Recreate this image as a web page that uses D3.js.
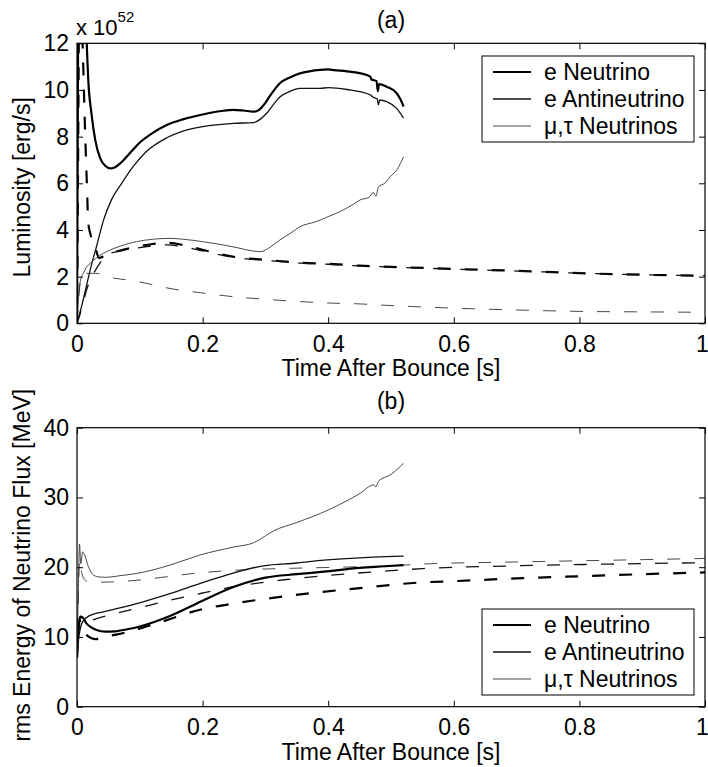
<!DOCTYPE html>
<html>
<head>
<meta charset="utf-8">
<script src="https://cdn.jsdelivr.net/npm/d3@7"></script>
<style>
  body { margin: 0; background: #fff; }
  text { font-family: "Liberation Sans", Arial, Helvetica, sans-serif; }
</style>
</head>
<body>
<div id="chart"></div>
<script>
// Time axis ticks, shared by both panels
const timeTicks = [0, 0.2, 0.4, 0.6, 0.8, 1];
const lumTicks = [0, 2, 4, 6, 8, 10, 12];
const energyTicks = [0, 10, 20, 30, 40];
const seriesNames = ["e Neutrino", "e Antineutrino", "\u03bc,\u03c4 Neutrinos"];

// (a) luminosity in units of 1e52 erg/s, [time s, value]
// solid: run ending at 0.52 s
const lumENu = [[0,0],[0.002,14],[0.005,22],[0.009,20],[0.0155,12],[0.018,10.4],[0.023,9.0],[0.029,7.86],[0.037,7.07],[0.045,6.75],[0.053,6.64],[0.06,6.68],[0.069,6.86],[0.084,7.29],[0.1,7.75],[0.12,8.15],[0.143,8.5],[0.17,8.75],[0.2,8.95],[0.23,9.1],[0.249,9.15],[0.265,9.12],[0.281,9.07],[0.29,9.15],[0.3,9.45],[0.31,9.85],[0.323,10.29],[0.34,10.55],[0.355,10.71],[0.37,10.8],[0.387,10.86],[0.4,10.88],[0.41,10.85],[0.43,10.8],[0.45,10.72],[0.467,10.57],[0.469,10.45],[0.477,10.38],[0.479,9.95],[0.481,10.25],[0.493,10.14],[0.509,9.86],[0.515,9.6],[0.52,9.29]];
const lumEAnu = [[0,0],[0.008,0.8],[0.015,1.6],[0.022,2.4],[0.031,3.28],[0.042,4.4],[0.055,5.3],[0.07,5.95],[0.089,6.7],[0.11,7.35],[0.143,7.95],[0.17,8.25],[0.2,8.43],[0.249,8.57],[0.281,8.6],[0.292,8.75],[0.302,9.0],[0.312,9.35],[0.323,9.7],[0.34,9.95],[0.355,10.07],[0.387,10.07],[0.4,10.1],[0.43,10.02],[0.467,9.79],[0.471,9.7],[0.478,9.62],[0.48,9.36],[0.482,9.57],[0.493,9.5],[0.509,9.21],[0.52,8.79]];
const lumMuTau = [[0,0],[0.003,1.3],[0.006,1.9],[0.01,2.14],[0.015,2.4],[0.021,2.57],[0.03,2.78],[0.042,3.0],[0.06,3.22],[0.095,3.5],[0.12,3.6],[0.148,3.64],[0.17,3.6],[0.2,3.5],[0.25,3.27],[0.28,3.1],[0.292,3.07],[0.302,3.17],[0.312,3.35],[0.323,3.57],[0.34,3.86],[0.355,4.14],[0.38,4.35],[0.4,4.57],[0.419,4.79],[0.44,5.1],[0.451,5.29],[0.465,5.4],[0.472,5.6],[0.476,5.45],[0.48,5.85],[0.49,6.0],[0.499,6.29],[0.51,6.6],[0.52,7.14]];
// dashed: run out to 1 s
const lumENuB = [[0,0],[0.002,8],[0.004,16],[0.007,14],[0.009,12],[0.0128,8.29],[0.0155,6.14],[0.018,4.29],[0.021,3.86],[0.029,3.28],[0.035,2.8],[0.045,2.9],[0.06,3.05],[0.09,3.25],[0.12,3.4],[0.143,3.45],[0.17,3.35],[0.2,3.15],[0.25,2.85],[0.3,2.72],[0.355,2.6],[0.4,2.55],[0.45,2.47],[0.5,2.42],[0.6,2.33],[0.7,2.25],[0.8,2.15],[0.9,2.08],[1,2.04]];
const lumEAnuB = [[0,0],[0.005,0.4],[0.01,0.9],[0.015,1.4],[0.02,1.8],[0.03,2.3],[0.037,2.6],[0.047,2.95],[0.06,3.05],[0.09,3.2],[0.12,3.32],[0.143,3.36],[0.17,3.28],[0.2,3.1],[0.25,2.82],[0.3,2.7],[0.355,2.58],[0.4,2.53],[0.45,2.46],[0.5,2.41],[0.6,2.32],[0.7,2.24],[0.8,2.15],[0.9,2.08],[1,2.04]];
const lumMuTauB = [[0,0],[0.003,1.2],[0.006,1.9],[0.01,2.14],[0.03,2.14],[0.06,1.93],[0.08,1.86],[0.1,1.77],[0.13,1.6],[0.143,1.52],[0.2,1.3],[0.249,1.14],[0.3,1.03],[0.355,0.93],[0.4,0.87],[0.451,0.83],[0.5,0.76],[0.6,0.65],[0.7,0.57],[0.8,0.51],[0.9,0.49],[1,0.47]];

// (b) rms energy in MeV, [time s, value]
const rmsENu = [[0,7],[0.002,11],[0.005,12.9],[0.009,12.8],[0.015,11.95],[0.022,11.4],[0.031,11.0],[0.045,10.75],[0.06,10.8],[0.08,11.1],[0.1,11.5],[0.148,13.0],[0.2,15.2],[0.25,17.2],[0.3,18.5],[0.35,19.0],[0.393,19.36],[0.45,19.9],[0.483,20.1],[0.52,20.3]];
const rmsEAnu = [[0,7],[0.003,10],[0.006,11.5],[0.01,12.3],[0.021,13.1],[0.042,13.6],[0.07,14.2],[0.1,14.9],[0.148,16.2],[0.2,17.8],[0.25,19.2],[0.297,20.2],[0.35,20.6],[0.393,21.0],[0.472,21.45],[0.52,21.6]];
const rmsMuTau = [[0,7],[0.002,16],[0.004,23.3],[0.006,20.5],[0.009,22.2],[0.012,21.8],[0.018,20.1],[0.026,18.9],[0.035,18.6],[0.045,18.55],[0.07,18.8],[0.095,19.1],[0.148,20.3],[0.196,21.75],[0.25,22.9],[0.281,23.5],[0.29,23.9],[0.3,24.5],[0.313,25.2],[0.35,26.4],[0.4,28.2],[0.451,30.6],[0.472,31.8],[0.476,31.5],[0.48,32.3],[0.5,33.3],[0.52,34.9]];
const rmsENuB = [[0,7],[0.002,11],[0.004,12.4],[0.008,11.5],[0.015,10.3],[0.03,9.7],[0.05,10.1],[0.08,10.7],[0.127,11.95],[0.196,13.9],[0.25,14.8],[0.287,15.3],[0.37,16.26],[0.45,17.0],[0.545,17.8],[0.6,18.0],[0.7,18.4],[0.8,18.7],[0.9,19.0],[1,19.25]];
const rmsEAnuB = [[0,7],[0.003,11],[0.006,12.6],[0.012,12.0],[0.02,12.3],[0.03,12.6],[0.05,13.1],[0.1,14.2],[0.15,15.3],[0.2,16.3],[0.25,17.2],[0.33,18.2],[0.41,18.9],[0.5,19.5],[0.55,19.8],[0.7,20.2],[0.85,20.45],[1,20.65]];
const rmsMuTauB = [[0,7],[0.002,15],[0.004,21],[0.008,19],[0.015,18.0],[0.03,17.85],[0.1,18.16],[0.14,18.6],[0.19,19.15],[0.26,19.6],[0.34,19.84],[0.42,20.0],[0.5,20.2],[0.55,20.45],[0.7,20.75],[0.85,21.0],[1,21.25]];

// line styles: thick / medium / thin
const styles = [
  { width: 2.2, color: "#000" },
  { width: 1.3, color: "#111" },
  { width: 0.9, color: "#333" }
];
const dash = "13,14";
const fontSize = 23;

const width = 708, height = 767;
const left = 77, right = 705;

const svg = d3.select("#chart").append("svg")
  .attr("width", width)
  .attr("height", height);

const x = d3.scaleLinear().domain([0, 1]).range([left, right]);

function panel(opts) {
  const y = d3.scaleLinear().domain(opts.yDomain).range([opts.bottom, opts.top]);
  const g = svg.append("g");

  const clipId = "clip-" + opts.id;
  svg.append("clipPath").attr("id", clipId)
    .append("rect")
      .attr("x", left).attr("y", opts.top)
      .attr("width", right - left).attr("height", opts.bottom - opts.top);

  const line = d3.line()
    .x(d => x(d[0]))
    .y(d => y(d[1]))
    .curve(d3.curveMonotoneX);

  const plot = g.append("g").attr("clip-path", "url(#" + clipId + ")");

  // dashed run first, solid run on top
  opts.dashed.forEach((s, i) => {
    plot.append("path")
      .datum(s)
      .attr("d", line)
      .attr("fill", "none")
      .attr("stroke", styles[i].color)
      .attr("stroke-width", styles[i].width)
      .attr("stroke-dasharray", dash);
  });
  opts.solid.forEach((s, i) => {
    plot.append("path")
      .datum(s)
      .attr("d", line)
      .attr("fill", "none")
      .attr("stroke", styles[i].color)
      .attr("stroke-width", styles[i].width)
      .attr("stroke-linejoin", "round");
  });

  // axes, ticks pointing inward on all four sides
  const fmt = d3.format("~g");
  const axB = g.append("g")
    .attr("transform", "translate(0," + opts.bottom + ")")
    .call(d3.axisBottom(x).tickValues(timeTicks).tickFormat(fmt)
      .tickSizeInner(-6).tickSizeOuter(0).tickPadding(12));
  // the last label sits on the page edge, pull it in a little
  axB.selectAll(".tick text").filter(d => d === 1).attr("dx", -3);
  g.append("g")
    .attr("transform", "translate(0," + opts.top + ")")
    .call(d3.axisTop(x).tickValues(timeTicks).tickFormat("")
      .tickSizeInner(-6).tickSizeOuter(0));
  g.append("g")
    .attr("transform", "translate(" + left + ",0)")
    .call(d3.axisLeft(y).tickValues(opts.yTicks).tickFormat(fmt)
      .tickSizeInner(-6).tickSizeOuter(0).tickPadding(8));
  g.append("g")
    .attr("transform", "translate(" + right + ",0)")
    .call(d3.axisRight(y).tickValues(opts.yTicks).tickFormat("")
      .tickSizeInner(-6).tickSizeOuter(0));

  g.selectAll(".domain").remove();
  g.selectAll(".tick line").attr("stroke", "#000");
  g.selectAll(".tick text")
    .attr("fill", "#000")
    .style("font-size", fontSize + "px")
    .style("font-family", "'Liberation Sans', Arial, sans-serif");

  // frame
  g.append("rect")
    .attr("x", left).attr("y", opts.top)
    .attr("width", right - left).attr("height", opts.bottom - opts.top)
    .attr("fill", "none").attr("stroke", "#000").attr("stroke-width", 1.2);

  // titles and labels
  g.append("text")
    .attr("x", (left + right) / 2).attr("y", opts.top - opts.titleGap)
    .attr("text-anchor", "middle")
    .style("font-size", fontSize + "px")
    .text(opts.title);

  g.append("text")
    .attr("x", (left + right) / 2).attr("y", opts.bottom + 53)
    .attr("text-anchor", "middle")
    .style("font-size", fontSize + "px")
    .text("Time After Bounce [s]");

  g.append("text")
    .attr("transform", "translate(30," + ((opts.top + opts.bottom) / 2 + opts.yLabelShift) + ") rotate(-90)")
    .attr("text-anchor", "middle")
    .style("font-size", fontSize + "px")
    .text(opts.yLabel);

  // legend
  const lg = g.append("g").attr("transform", "translate(482," + opts.legendTop + ")");
  lg.append("rect")
    .attr("width", 212).attr("height", 86)
    .attr("fill", "#fff").attr("stroke", "#000").attr("stroke-width", 1);
  seriesNames.forEach((name, i) => {
    const cy = 16 + i * 27;
    lg.append("line")
      .attr("x1", 11).attr("x2", 49).attr("y1", cy).attr("y2", cy)
      .attr("stroke", styles[i].color).attr("stroke-width", styles[i].width);
    lg.append("text")
      .attr("x", 62).attr("y", cy + 8)
      .style("font-size", fontSize + "px")
      .text(name);
  });

  return g;
}

const topPanel = panel({
  id: "a", top: 43.3, bottom: 323.3, yDomain: [0, 12], yTicks: lumTicks,
  title: "(a)", titleGap: 15, yLabel: "Luminosity [erg/s]", yLabelShift: 4,
  legendTop: 56,
  solid: [lumENu, lumEAnu, lumMuTau],
  dashed: [lumENuB, lumEAnuB, lumMuTauB]
});

// exponent label above the luminosity axis
const expo = topPanel.append("text")
  .attr("x", 76).attr("y", 35)
  .style("font-size", "22px");
expo.append("tspan").text("x 10");
expo.append("tspan").attr("dy", -13).style("font-size", "15px").text("52");

panel({
  id: "b", top: 427.7, bottom: 706.7, yDomain: [0, 40], yTicks: energyTicks,
  title: "(b)", titleGap: 19, yLabel: "rms Energy of Neutrino Flux [MeV]", yLabelShift: -2,
  legendTop: 609,
  solid: [rmsENu, rmsEAnu, rmsMuTau],
  dashed: [rmsENuB, rmsEAnuB, rmsMuTauB]
});
</script>
</body>
</html>
